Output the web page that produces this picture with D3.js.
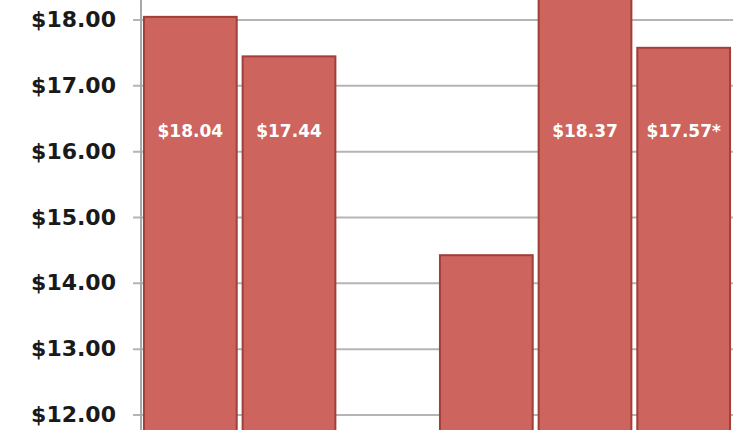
<!DOCTYPE html>
<html><head><meta charset="utf-8">
<script src="https://cdn.jsdelivr.net/npm/d3@7"></script>
<style>html,body{margin:0;padding:0;background:#fff;overflow:hidden}</style>
</head><body>
<svg id="c" width="750" height="430"></svg>
<script>
const categories = ["Group 1 A", "Group 1 B", "", "Group 2 A", "Group 2 B", "Group 2 C"];
const values = [18.04, 17.44, null, 14.42, 18.37, 17.57];
const barLabels = ["$18.04", "$17.44", "", "", "$18.37", "$17.57*"];
const tickValues = [12, 13, 14, 15, 16, 17, 18];
const tickLabels = ["$12.00", "$13.00", "$14.00", "$15.00", "$16.00", "$17.00", "$18.00"];

const W = 750, H = 430;
const axisX = 141, plotRight = 733;
const svg = d3.select("#c");

const y = d3.scaleLinear().domain([12, 18]).range([414.5, 19.5]);
const x = d3.scaleBand().domain(categories.map((c, i) => i)).range([axisX, plotRight])
  .paddingInner(0.06).paddingOuter(0.03);

// gridlines + ticks
const yAxis = d3.axisLeft(y).tickValues(tickValues).tickSize(-(733 - axisX)).tickSizeOuter(0)
  .tickFormat((d, i) => tickLabels[i]).tickPadding(0);
const gA = svg.append("g").attr("transform", `translate(${axisX},0)`).call(yAxis);
gA.select(".domain").remove();
gA.selectAll(".tick line").attr("stroke", "#b5b5b5").attr("stroke-width", 2).attr("x1", -8);
gA.selectAll(".tick text").attr("x", -25).attr("fill", "#1a1a1a")
  .attr("font-family", "DejaVu Sans").attr("font-weight", "bold").attr("font-size", 22);

// vertical axis line
svg.append("line").attr("x1", axisX).attr("x2", axisX).attr("y1", 0).attr("y2", H)
  .attr("stroke", "#a8a8a8").attr("stroke-width", 2);

// bars
const data = values.map((v, i) => ({i, v, label: barLabels[i]})).filter(d => d.v != null);
svg.append("g").selectAll("rect").data(data).join("rect")
  .attr("x", d => x(d.i)).attr("width", x.bandwidth())
  .attr("y", d => y(d.v)).attr("height", d => H + 10 - y(d.v))
  .attr("fill", "#cd645d").attr("stroke", "#a13f39").attr("stroke-width", 2);

// labels
svg.append("g").selectAll("text").data(data.filter(d => d.label)).join("text")
  .attr("x", d => x(d.i) + x.bandwidth() / 2).attr("y", 131)
  .attr("dy", "0.36em").attr("text-anchor", "middle")
  .attr("fill", "#fff").attr("font-family", "DejaVu Sans").attr("font-weight", "bold")
  .attr("font-size", 17).text(d => d.label);
</script>
</body></html>
